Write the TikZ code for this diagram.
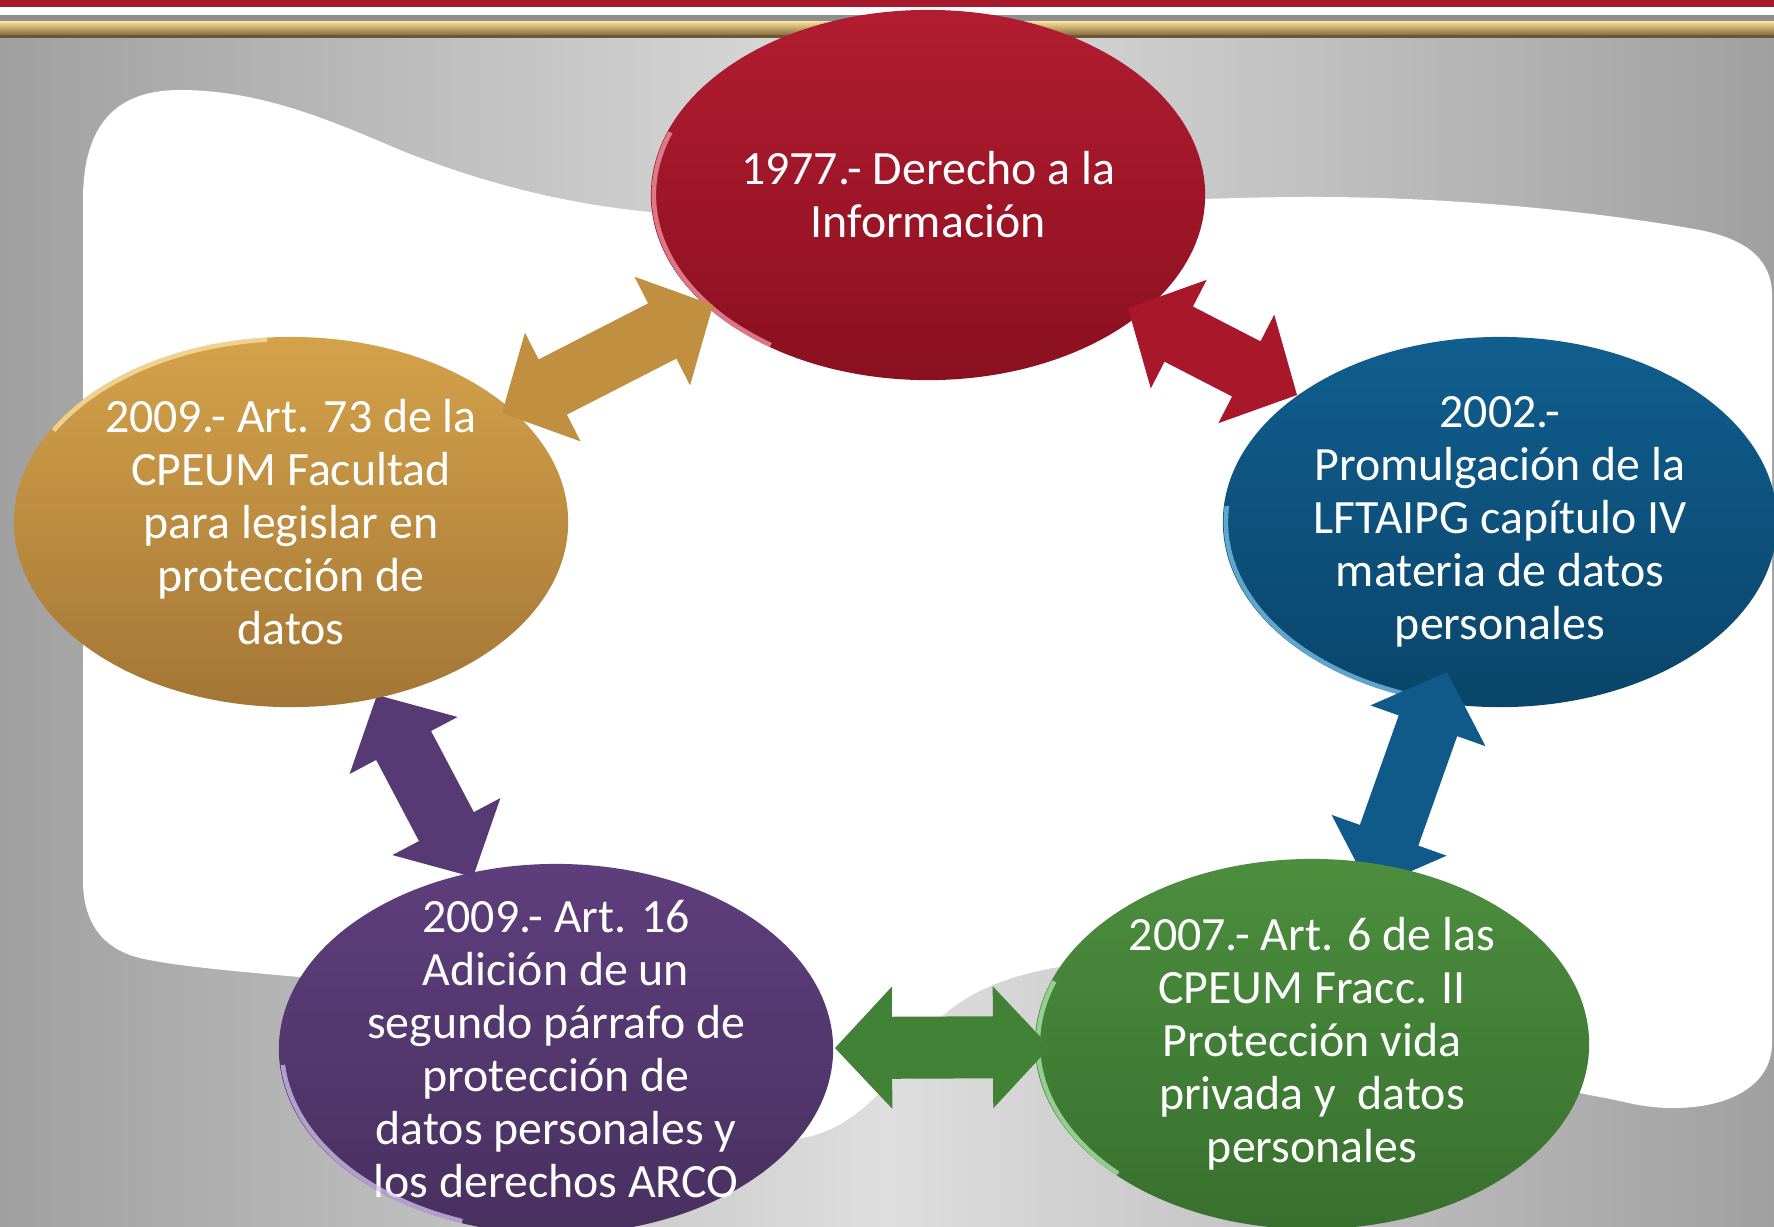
\documentclass[tikz,border=0pt]{standalone}
\usepackage{fontspec}
\setmainfont{Carlito}
\usetikzlibrary{shapes.geometric,calc}
\definecolor{bandred}{HTML}{A6192E}
\definecolor{bandgray}{HTML}{8E8E8E}
\definecolor{bandhi}{HTML}{FBE39A}
\definecolor{bandlo}{HTML}{8A6B3E}
\definecolor{bandbrown}{HTML}{6E5634}
\definecolor{bgside}{HTML}{A0A0A0}
\definecolor{bgmid}{HTML}{DEDEDE}
\definecolor{redtop}{HTML}{B21C30}
\definecolor{redbot}{HTML}{8A1020}
\definecolor{redarr}{HTML}{A8182A}
\definecolor{redhi}{HTML}{F39AA6}
\definecolor{bluetop}{HTML}{105E8E}
\definecolor{bluebot}{HTML}{0A456A}
\definecolor{bluearr}{HTML}{0F5A88}
\definecolor{bluehi}{HTML}{7CC4EC}
\definecolor{greentop}{HTML}{4C8E3E}
\definecolor{greenbot}{HTML}{38702E}
\definecolor{greenarr}{HTML}{428236}
\definecolor{greenhi}{HTML}{B2EAB0}
\definecolor{purptop}{HTML}{5E3E7C}
\definecolor{purpbot}{HTML}{48305F}
\definecolor{purparr}{HTML}{573A74}
\definecolor{purphi}{HTML}{D6C2F0}
\definecolor{goldtop}{HTML}{D4A24A}
\definecolor{goldbot}{HTML}{A47636}
\definecolor{goldarr}{HTML}{C18F40}
\definecolor{goldhi}{HTML}{FBE3A6}
\newcommand\twoway[3]{%
  \coordinate (twA) at ($(#1)!0.57cm!(#2)$);
  \coordinate (twB) at ($(#2)!0.57cm!(#1)$);
  \fill[#3] (#1) -- ($(twA)!0.61cm!90:(#2)$) -- ($(twA)!0.31cm!90:(#2)$)
    -- ($(twB)!0.31cm!-90:(#1)$) -- ($(twB)!0.61cm!-90:(#1)$) -- (#2)
    -- ($(twB)!0.61cm!90:(#1)$) -- ($(twB)!0.31cm!90:(#1)$)
    -- ($(twA)!0.31cm!-90:(#2)$) -- ($(twA)!0.61cm!-90:(#2)$) -- cycle;}
\newcommand\glint[4]{%
  \draw[#2, line width=1.3pt, opacity=.75] ($(#1.center)+(#3:2.74cm and 1.83cm)$)
    arc[start angle=#3, end angle=#4, x radius=2.74cm, y radius=1.83cm];}
\begin{document}
\begin{tikzpicture}[x=0.01cm, y=-0.01cm,
  bubble/.style={ellipse, minimum width=5.54cm, minimum height=3.7cm, inner sep=-0.45cm,
    align=center, text=white, font=\fontsize{13.6}{15.1}\selectfont}]
\useasboundingbox (0,0) rectangle (1774,1226);
\clip (0,0) rectangle (1774,1226);
\shade[left color=bgside, right color=bgside, middle color=bgmid] (0,0) rectangle (1774,1226);
\fill[bandred] (0,0) rectangle (1774,7);
\fill[white] (0,7) rectangle (1774,15);
\fill[bandgray] (0,15) rectangle (1774,21);
\shade[top color=bandhi, bottom color=bandlo] (0,21) rectangle (1774,35);
\fill[bandbrown] (0,35) rectangle (1774,38);
\fill[white] (83,240) -- (83,200) .. controls (83,120) and (120,90) .. (180,90)
  .. controls (260,90) and (330,120) .. (400,150) .. controls (500,190) and (600,212) .. (700,215)
  .. controls (900,222) and (1100,198) .. (1300,197) .. controls (1450,196) and (1600,212) .. (1700,230)
  .. controls (1750,240) and (1772,262) .. (1772,295) -- (1772,1043)
  .. controls (1772,1085) and (1730,1108) .. (1673,1108) .. controls (1640,1108) and (1620,1100) .. (1600,1097)
  .. controls (1400,1060) and (1250,950) .. (1100,962) .. controls (1000,970) and (950,1000) .. (920,1040)
  .. controls (880,1100) and (840,1140) .. (780,1140) .. controls (600,1130) and (450,990) .. (300,977)
  .. controls (220,970) and (170,965) .. (140,958) .. controls (100,948) and (83,920) .. (83,880) -- cycle;
\coordinate (r2b) at (1128,308);
\coordinate (b2r) at (1297,395);
\coordinate (b2g) at (1447,672);
\coordinate (g2b) at (1370,889);
\coordinate (g2p) at (1050,1047);
\coordinate (p2g) at (835,1048);
\coordinate (p2o) at (473,877);
\coordinate (o2p) at (377,695);
\coordinate (o2r) at (502,413);
\coordinate (r2o) at (713,305);
\node[bubble, top color=redtop, bottom color=redbot] (red) at (928,195) {1977.- Derecho a la\\Información};
\glint{red}{redhi}{160}{235}
\twoway{r2b}{b2r}{redarr}
\node[bubble, top color=bluetop, bottom color=bluebot] (blue) at (1500,522) {2002.-\\Promulgación de la\\LFTAIPG capítulo IV\\materia de datos\\personales};
\glint{blue}{bluehi}{175}{250}
\twoway{b2g}{g2b}{bluearr}
\node[bubble, top color=greentop, bottom color=greenbot] (green) at (1312,1044) {2007.- Art. 6 de las\\CPEUM Fracc. II\\Protección vida\\privada y\ \ datos\\personales};
\glint{green}{greenhi}{160}{225}
\twoway{p2g}{g2p}{greenarr}
\node[bubble, top color=purptop, bottom color=purpbot] (purple) at (556,1049) {2009.- Art. 16\\Adición de un\\segundo párrafo de\\protección de\\datos personales y\\los derechos ARCO};
\glint{purple}{purphi}{185}{250}
\twoway{o2p}{p2o}{purparr}
\node[bubble, top color=goldtop, bottom color=goldbot] (gold) at (291,522) {2009.- Art. 73 de la\\CPEUM Facultad\\para legislar en\\protección de\\datos};
\glint{gold}{goldhi}{95}{150}
\twoway{o2r}{r2o}{goldarr}
\end{tikzpicture}
\end{document}
